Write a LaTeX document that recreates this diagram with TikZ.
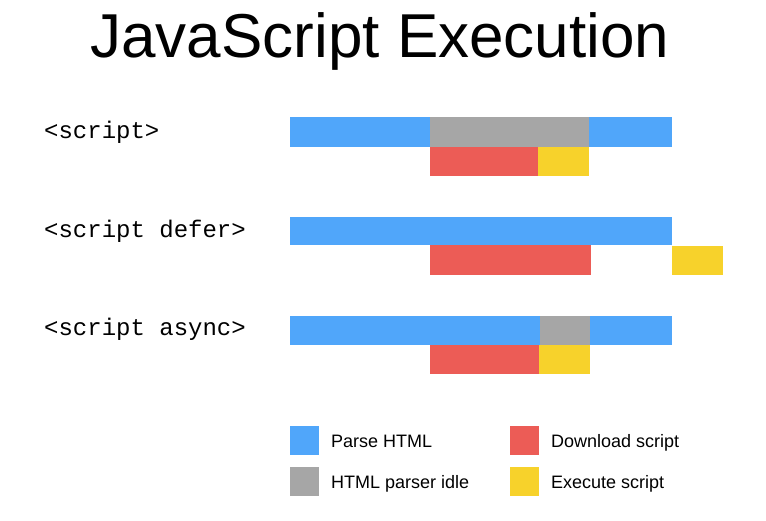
\documentclass[tikz,border=0pt]{standalone}
\usepackage{fontspec}
\setmainfont{Liberation Sans}
\setmonofont{Liberation Mono}
\usetikzlibrary{positioning}

\definecolor{parsecol}{RGB}{80,166,250}
\definecolor{idlecol}{RGB}{166,166,166}
\definecolor{loadcol}{RGB}{236,92,86}
\definecolor{runcol}{RGB}{247,210,43}

\begin{document}
\begin{tikzpicture}[x=1pt, y=-1pt,
    tag/.style={anchor=base west, inner sep=0pt, font=\fontsize{24}{26}\selectfont\ttfamily},
    key/.style={minimum size=29pt, inner sep=0pt, outer sep=0pt},
    keytext/.style={right=12pt of #1, inner sep=0pt, text height=13pt, text depth=0pt,
      font=\fontsize{18}{20}\selectfont}]
  \useasboundingbox (0,0) rectangle (766,521);

  \node[anchor=base, inner sep=0pt, font=\fontsize{62}{64}\selectfont] (title) at (380,58) {JavaScript Execution};

  % <script>
  \node[tag] (plain) at (44,139) {<script>};
  \fill[parsecol] (290,117) rectangle (430,147);
  \fill[idlecol]  (430,117) rectangle (589,147);
  \fill[parsecol] (589,117) rectangle (672,147);
  \fill[loadcol]  (430,147) rectangle (538,176);
  \fill[runcol]   (538,147) rectangle (589,176);

  % <script defer>
  \node[tag] (defer) at (44,238) {<script defer>};
  \fill[parsecol] (290,217) rectangle (672,245);
  \fill[loadcol]  (430,245) rectangle (591,275);
  \fill[runcol]   (672,246) rectangle (723,275);

  % <script async>
  \node[tag] (async) at (44,336) {<script async>};
  \fill[parsecol] (290,316) rectangle (540,345);
  \fill[idlecol]  (540,316) rectangle (590,345);
  \fill[parsecol] (590,316) rectangle (672,345);
  \fill[loadcol]  (430,345) rectangle (539,374);
  \fill[runcol]   (539,345) rectangle (590,374);

  % legend
  \node[key, fill=parsecol] (kparse) at (304.5,440.5) {};
  \node[key, fill=idlecol]  (kidle)  at (304.5,481.5) {};
  \node[key, fill=loadcol]  (kload)  at (524.5,440.5) {};
  \node[key, fill=runcol]   (krun)   at (524.5,481.5) {};
  \node[keytext=kparse] {Parse HTML};
  \node[keytext=kidle]  {HTML parser idle};
  \node[keytext=kload]  {Download script};
  \node[keytext=krun]   {Execute script};
\end{tikzpicture}
\end{document}
